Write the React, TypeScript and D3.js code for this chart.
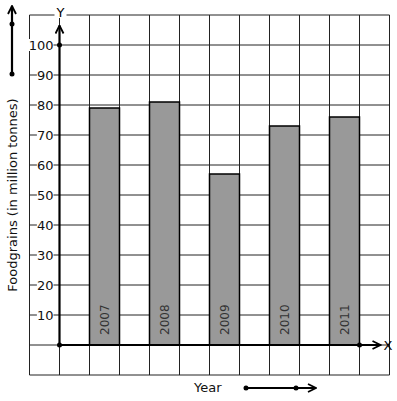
import React, { useEffect, useRef } from 'react';
import * as d3 from 'd3';

const years = ['2007', '2008', '2009', '2010', '2011'];
const foodgrains = [79, 81, 57, 73, 76];
const yTicks = [10, 20, 30, 40, 50, 60, 70, 80, 90, 100];

export default function App() {
  const ref = useRef<SVGSVGElement>(null);

  useEffect(() => {
    const svg = d3.select(ref.current);
    svg.selectAll('*').remove();
    const font = 'DejaVu Sans, sans-serif';

    // grid is 12 columns x 12 rows, origin one cell in from left/bottom
    const x = d3.scaleLinear().domain([-1, 11]).range([29.5, 389.5]);
    const y = d3.scaleLinear().domain([-10, 110]).range([375, 15]);

    const defs = svg.append('defs');
    defs
      .append('marker')
      .attr('id', 'arr')
      .attr('viewBox', '0 0 10 10')
      .attr('refX', 9)
      .attr('refY', 5)
      .attr('markerWidth', 10)
      .attr('markerHeight', 10)
      .attr('markerUnits', 'userSpaceOnUse')
      .attr('orient', 'auto')
      .append('path')
      .attr('d', 'M1,1 L9,5 L1,9')
      .attr('fill', 'none')
      .attr('stroke', '#000')
      .attr('stroke-width', 1.8);

    const grid = svg.append('g').attr('stroke', '#222').attr('stroke-width', 1);
    d3.range(-1, 12).forEach(i => {
      grid.append('line').attr('x1', x(i)).attr('x2', x(i)).attr('y1', y(-10)).attr('y2', y(110));
    });
    d3.range(-10, 120, 10).forEach(v => {
      grid.append('line').attr('x1', x(-1)).attr('x2', x(11)).attr('y1', y(v)).attr('y2', y(v));
    });

    // bars
    const barIdx = (i: number) => 1 + i * 2;
    svg
      .selectAll('.bar')
      .data(foodgrains)
      .join('rect')
      .attr('class', 'bar')
      .attr('x', (d, i) => x(barIdx(i)))
      .attr('width', x(1) - x(0))
      .attr('y', d => y(d))
      .attr('height', d => y(0) - y(d))
      .attr('fill', '#999')
      .attr('stroke', '#000')
      .attr('stroke-width', 1.5);

    svg
      .selectAll('.yr')
      .data(years)
      .join('text')
      .attr('class', 'yr')
      .attr('transform', (d, i) => `translate(${x(barIdx(i) + 0.5) + 4.5}, ${y(0) - 10}) rotate(-90)`)
      .attr('font-family', font)
      .attr('font-size', 12)
      .attr('fill', '#333')
      .text(d => d);

    // y tick labels with white background
    const tg = svg.append('g');
    yTicks.forEach(v => {
      const label = String(v);
      const w = label.length * 8.3;
      tg.append('rect')
        .attr('x', x(0) - 6 - w)
        .attr('y', y(v) - 6)
        .attr('width', w)
        .attr('height', 12)
        .attr('fill', '#fff');
      tg.append('text')
        .attr('x', x(0) - 6)
        .attr('y', y(v) + 5)
        .attr('text-anchor', 'end')
        .attr('font-family', font)
        .attr('font-size', 13)
        .attr('fill', '#111')
        .text(label);
    });

    // axes
    svg.append('line')
      .attr('x1', x(0)).attr('x2', x(0))
      .attr('y1', y(0)).attr('y2', y(106.5))
      .attr('stroke', '#000').attr('stroke-width', 2.2)
      .attr('marker-end', 'url(#arr)');
    svg.append('line')
      .attr('x1', x(0)).attr('x2', x(10.7))
      .attr('y1', y(0)).attr('y2', y(0))
      .attr('stroke', '#000').attr('stroke-width', 2.2)
      .attr('marker-end', 'url(#arr)');
    [[0, 0], [0, 100], [10, 0]].forEach(([a, b]) => {
      svg.append('circle').attr('cx', x(a)).attr('cy', y(b)).attr('r', 2.5).attr('fill', '#000');
    });

    svg.append('rect').attr('x', x(0) - 5).attr('y', 6).attr('width', 12).attr('height', 12).attr('fill', '#fff');
    svg.append('text')
      .attr('x', x(0) + 1).attr('y', 17)
      .attr('text-anchor', 'middle')
      .attr('font-family', font).attr('font-size', 13)
      .text('Y');
    svg.append('text')
      .attr('x', x(10.7) + 3).attr('y', y(0) + 5)
      .attr('font-family', font).attr('font-size', 13)
      .text('X');

    // axis titles with arrows
    svg.append('text')
      .attr('transform', `translate(17, ${195}) rotate(-90)`)
      .attr('text-anchor', 'middle')
      .attr('font-family', font).attr('font-size', 13)
      .attr('fill', '#111')
      .text('Foodgrains (in million tonnes)');
    svg.append('line')
      .attr('x1', 12).attr('x2', 12).attr('y1', 74).attr('y2', 6)
      .attr('stroke', '#000').attr('stroke-width', 2.2)
      .attr('marker-end', 'url(#arr)');
    [24, 74].forEach(cy => svg.append('circle').attr('cx', 12).attr('cy', cy).attr('r', 2.5).attr('fill', '#000'));

    svg.append('text')
      .attr('x', 194).attr('y', 392)
      .attr('font-family', font).attr('font-size', 13)
      .attr('fill', '#111')
      .text('Year');
    svg.append('line')
      .attr('x1', 246).attr('x2', 316).attr('y1', 388).attr('y2', 388)
      .attr('stroke', '#000').attr('stroke-width', 2)
      .attr('marker-end', 'url(#arr)');
    [246, 296].forEach(cx => svg.append('circle').attr('cx', cx).attr('cy', 388).attr('r', 2.5).attr('fill', '#000'));
  }, []);

  return (
    <svg
      ref={ref}
      width={397}
      height={401}
      style={{ position: 'absolute', left: 0, top: 0, background: '#fff' }}
    />
  );
}
